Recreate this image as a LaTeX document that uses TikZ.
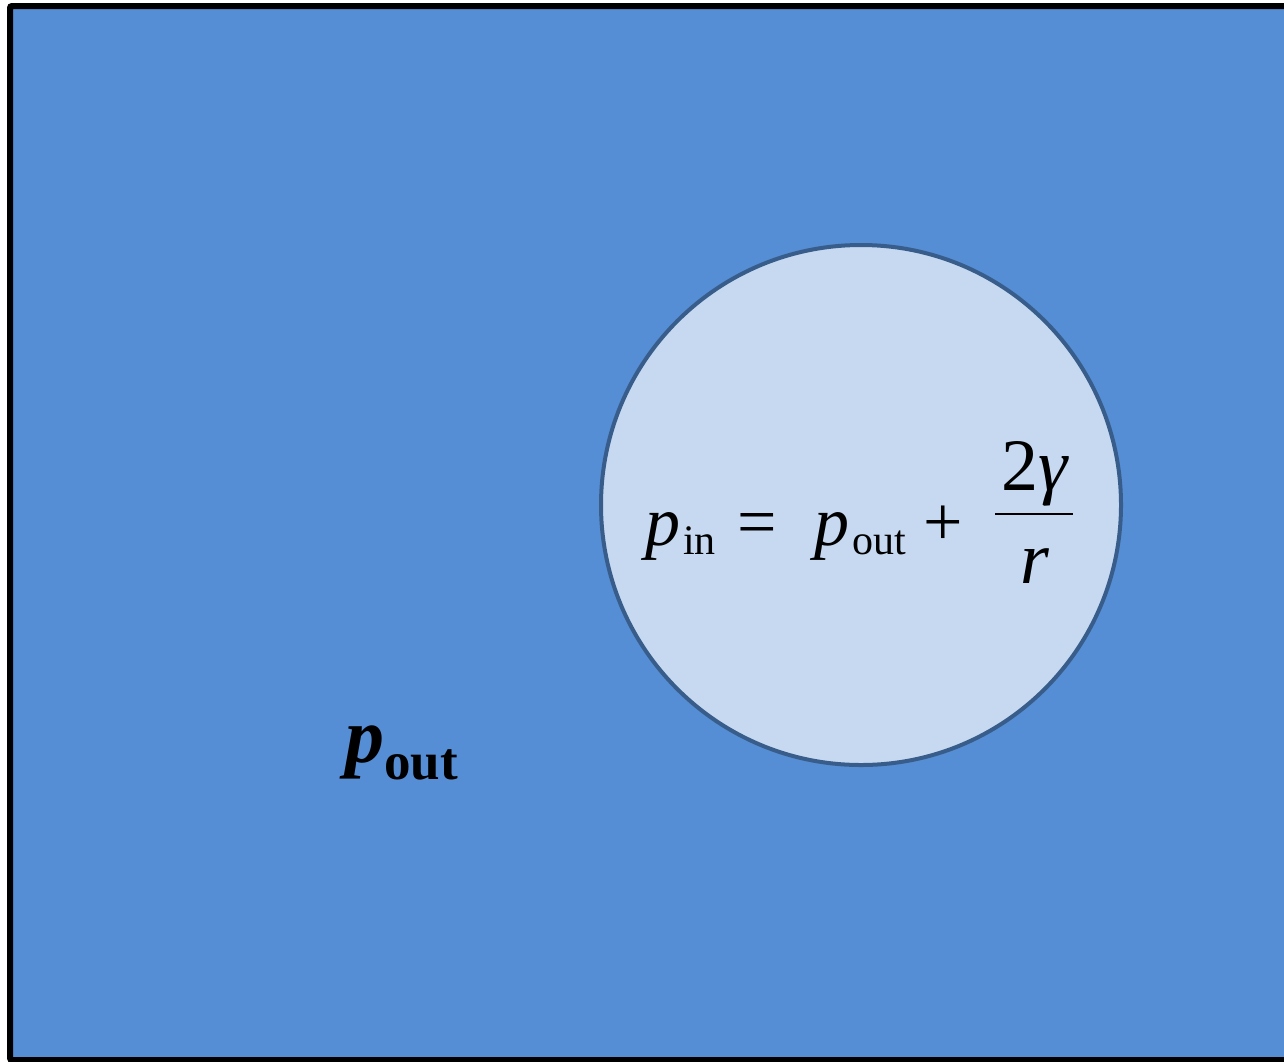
\documentclass[tikz,border=0pt]{standalone}
\usepackage{fontspec}
\setmainfont{Liberation Serif}
\definecolor{bgblue}{RGB}{85,142,213}
\definecolor{bubble}{RGB}{198,217,241}
\definecolor{bubbleedge}{RGB}{56,93,138}
\tikzset{
  frame/.style={draw=black, line width=6pt, fill=bgblue, rounded corners=2pt},
  bubblestyle/.style={draw=bubbleedge, line width=4pt, fill=bubble},
  eqtext/.style={inner sep=0pt, outer sep=0pt, font=\fontsize{70}{70}\selectfont},
  fractext/.style={inner sep=0pt, outer sep=0pt, font=\fontsize{74}{74}\selectfont}
}
\newcommand{\subtxt}[1]{\hspace{3pt}\raisebox{-0.14em}{\fontsize{42}{42}\selectfont #1}}
\begin{document}
\begin{tikzpicture}[x=1pt,y=-1pt]
\useasboundingbox (0,0) rectangle (1284,1061);
\clip (0,0) rectangle (1284,1061);
\draw[frame] (10,6) rectangle (1320,1060);
\draw[bubblestyle] (861,505) circle (260);
\node[eqtext, anchor=base west] (lhs) at (645,545)
  {\textit{p}\subtxt{in}\hspace{22pt}=\hspace{37pt}\textit{p}\subtxt{out}\hspace{18pt}+};
\coordinate (barL) at (995,514);
\coordinate (barR) at (1073,514);
\draw[line width=2.5pt] (barL) -- (barR);
\node[fractext, anchor=base] (num) at (1035,490) {2\textit{γ}};
\node[fractext, anchor=base] (den) at (1035,583) {\textit{r}};
\node[inner sep=0pt, anchor=base west] (pout) at (345,762)
  {\fontsize{78}{78}\selectfont\bfseries\itshape p\raisebox{-0.22em}{\fontsize{53}{53}\selectfont\upshape out}};
\end{tikzpicture}
\end{document}
